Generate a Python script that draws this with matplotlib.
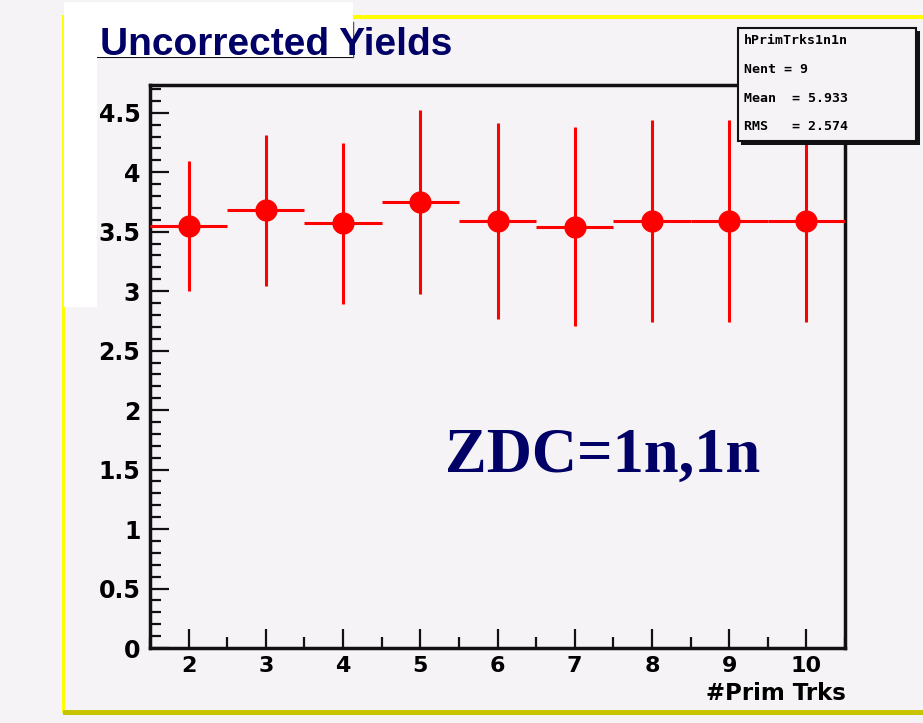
import matplotlib
matplotlib.use('Agg')
import matplotlib.pyplot as plt
from matplotlib.patches import Rectangle
from matplotlib.lines import Line2D
from matplotlib.ticker import MultipleLocator

# ---- data ----
n_tracks = [2, 3, 4, 5, 6, 7, 8, 9, 10]
yields = [3.55, 3.68, 3.57, 3.75, 3.59, 3.54, 3.59, 3.59, 3.59]
yield_err = [0.545, 0.633, 0.678, 0.774, 0.826, 0.837, 0.846, 0.846, 0.846]
bin_half = [0.5] * 9
x_ticks = [2, 3, 4, 5, 6, 7, 8, 9, 10]
y_ticks = [0, 0.5, 1, 1.5, 2, 2.5, 3, 3.5, 4, 4.5]
y_tick_labels = ["0", "0.5", "1", "1.5", "2", "2.5", "3", "3.5", "4", "4.5"]
title_text = "Uncorrected Yields"
x_label = "#Prim Trks"
note_text = "ZDC=1n,1n"
stats_lines = ["hPrimTrks1n1n", "Nent = 9", "Mean  = 5.933", "RMS   = 2.574"]

W, H = 923, 723
fig = plt.figure(figsize=(W / 100, H / 100), dpi=100)
bg = '#f6f3f6'
fig.patch.set_facecolor(bg)
navy = '#000066'


def fx(x):
    return x / W


def fy(y):
    return 1 - y / H


def frect(x0, y0, x1, y1, z=-5, **kw):
    r = Rectangle((fx(x0), fy(y1)), (x1 - x0) / W, (y1 - y0) / H,
                  transform=fig.transFigure, figure=fig, zorder=z, **kw)
    fig.patches.append(r)


def fline(xs, ys, z=-4, **kw):
    l = Line2D([fx(x) for x in xs], [fy(y) for y in ys],
               transform=fig.transFigure, figure=fig, zorder=z, **kw)
    fig.lines.append(l)


# canvas decorations
frect(62, 15, 65, 713, color='#ffff00', lw=0)
frect(353, 15, 923, 19, color='#ffff00', lw=0)
frect(63, 710, 923, 715, color='#c8c400', lw=0)
frect(64, 2, 353, 57, color='white', lw=0, z=-3)
frect(64, 2, 97, 307, color='white', lw=0, z=-3)
fline([97, 353], [57, 57], color='#111111', lw=1.5)
fline([353, 353], [22, 57], color='#555555', lw=1.0)

# ---- main axes ----
ax = fig.add_axes([fx(150), fy(648), (845 - 150) / W, (648 - 85) / H])
ax.set_facecolor(bg)
ax.errorbar(n_tracks, yields, xerr=bin_half, yerr=yield_err, fmt='o',
            color='#ff0000', ms=15, elinewidth=2.2, capsize=0, zorder=3)
ax.set_xlim(1.5, 10.5)
ax.set_ylim(0, 4.733)
ax.set_xticks(x_ticks)
ax.set_xticklabels([str(t) for t in x_ticks])
ax.set_yticks(y_ticks)
ax.set_yticklabels(y_tick_labels)
ax.xaxis.set_minor_locator(MultipleLocator(0.5))
ax.yaxis.set_minor_locator(MultipleLocator(0.1))
ax.tick_params(which='major', direction='in', length=14, width=1.6,
               color='#111111', labelsize=17, pad=7)
ax.tick_params(axis='x', which='major', labelsize=16, pad=6)
ax.tick_params(which='minor', direction='in', length=8, width=1.6,
               color='#111111')
for lab in ax.get_xticklabels() + ax.get_yticklabels():
    lab.set_fontweight('bold')
for s in ax.spines.values():
    s.set_linewidth(2.5)
    s.set_color('#111111')

fig.text(fx(846), fy(700), x_label, ha='right', va='baseline',
         fontsize=16.5, fontweight='bold', color='black', zorder=6)

fig.text(fx(603), fy(472), note_text, ha='center', va='baseline',
         fontsize=45, fontweight='bold', color=navy,
         family=['Liberation Serif', 'DejaVu Serif'])

fig.text(fx(100), fy(55), title_text, ha='left', va='baseline',
         fontsize=28, fontweight='bold', color=navy,
         family=['Liberation Sans', 'DejaVu Sans'], zorder=6)

# stats box
frect(741, 31, 920, 145, z=8, color='#111111', lw=0)
frect(738, 28, 916, 141, z=9, facecolor=bg, edgecolor='#111111', lw=1.5)
for i, s in enumerate(stats_lines):
    fig.text(fx(744), fy(41 + 28.5 * i), s, ha='left', va='center',
             fontsize=9.5, fontweight='bold', color='black',
             family=['DejaVu Sans Mono'], zorder=10)

fig.savefig('out.png', dpi=100, facecolor=fig.get_facecolor())
